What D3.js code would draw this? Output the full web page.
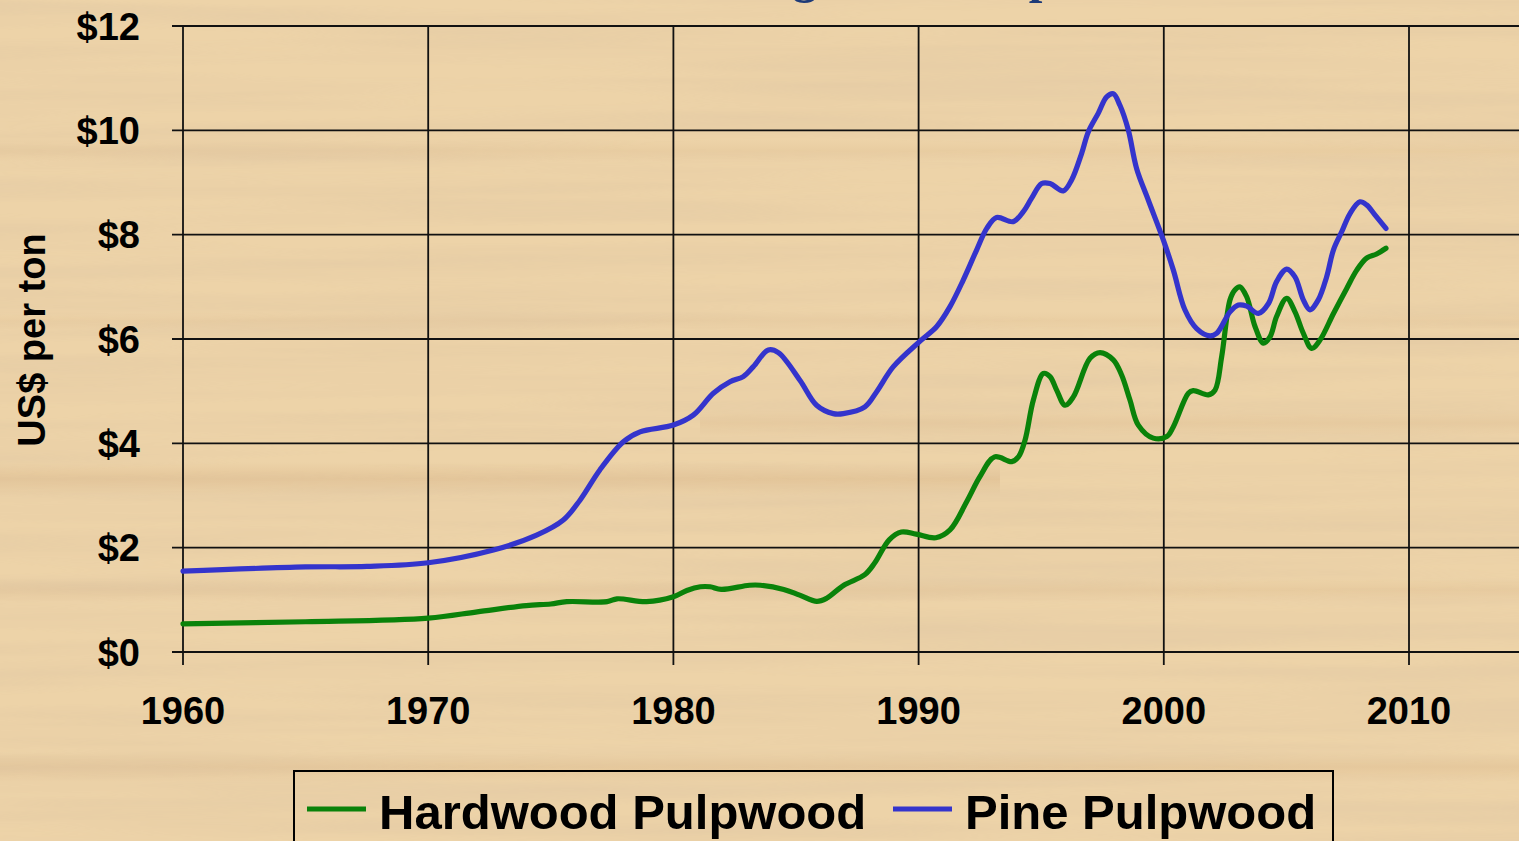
<!DOCTYPE html>
<html>
<head>
<meta charset="utf-8">
<script src="https://cdn.jsdelivr.net/npm/d3@7"></script>
<style>
  html, body { margin: 0; padding: 0; overflow: hidden; background: #ecd2a7; }
  svg { display: block; }
  text { font-family: "Liberation Sans", Arial, sans-serif; font-weight: bold; fill: #000; }
</style>
</head>
<body>
<div id="chart"></div>
<script>
// pulpwood stumpage prices, US$ per ton
const hardwood = [
  [1960, 0.54], [1965, 0.58], [1970, 0.65], [1972, 0.77], [1974, 0.89], [1975, 0.92],
  [1975.65, 0.965], [1977.3, 0.965], [1977.7, 1.02], [1978.9, 0.965], [1980, 1.06],
  [1980.55, 1.18], [1981.1, 1.25], [1981.5, 1.25], [1981.95, 1.2], [1983.1, 1.28],
  [1983.55, 1.28], [1984.5, 1.2], [1985.15, 1.09], [1985.85, 0.97], [1986.25, 1.03],
  [1986.95, 1.28], [1987.8, 1.48], [1988.2, 1.7], [1988.8, 2.15], [1989.3, 2.3],
  [1989.9, 2.26], [1990.7, 2.19], [1991.28, 2.34], [1991.96, 2.88], [1992.5, 3.36],
  [1993.1, 3.74], [1993.8, 3.65], [1994.07, 3.74], [1994.34, 4.06], [1994.68, 4.83],
  [1995.09, 5.34], [1995.36, 5.28], [1995.63, 5.02], [1995.97, 4.73], [1996.31, 4.89],
  [1996.99, 5.63], [1997.4, 5.74], [1997.94, 5.6], [1998.28, 5.31], [1998.62, 4.83],
  [1998.96, 4.35], [1999.57, 4.1], [2000.12, 4.13], [2000.39, 4.32], [2001.0, 4.96],
  [2001.2, 5.01], [2001.82, 4.93], [2002.09, 5.02], [2002.36, 5.66], [2002.7, 6.75],
  [2002.9, 6.94], [2003.1, 7.0], [2003.38, 6.81], [2003.72, 6.24], [2004.06, 5.92],
  [2004.33, 6.04], [2004.6, 6.43], [2005.01, 6.78], [2005.35, 6.52], [2005.69, 6.11],
  [2006.03, 5.82], [2006.37, 5.98], [2006.92, 6.49], [2007.46, 6.97], [2007.87, 7.32],
  [2008.27, 7.55], [2008.68, 7.63], [2009.06, 7.74]
];

const pine = [
  [1960, 1.55], [1965, 1.63], [1967.5, 1.64], [1970, 1.71], [1972.66, 1.955],
  [1974.42, 2.24], [1975.51, 2.53], [1976.19, 2.91], [1977.0, 3.49], [1977.96, 4.03],
  [1978.64, 4.22], [1980.0, 4.35], [1980.81, 4.54], [1981.63, 4.96], [1982.31, 5.18],
  [1982.85, 5.28], [1983.26, 5.47], [1983.87, 5.79], [1984.28, 5.74], [1985.16, 5.21],
  [1985.84, 4.73], [1986.52, 4.57], [1986.93, 4.57], [1987.81, 4.7], [1988.29, 4.99],
  [1988.97, 5.47], [1990.06, 5.96], [1990.74, 6.24], [1991.28, 6.62], [1991.82, 7.13],
  [1992.37, 7.71], [1992.78, 8.12], [1993.18, 8.33], [1993.86, 8.25], [1994.27, 8.44],
  [1994.61, 8.7], [1995.02, 8.98], [1995.36, 8.98], [1995.9, 8.84], [1996.24, 9.05],
  [1996.65, 9.56], [1996.92, 9.97], [1997.33, 10.33], [1997.67, 10.64], [1997.94, 10.7],
  [1998.21, 10.48], [1998.55, 10.01], [1998.89, 9.27], [1999.37, 8.66], [1999.98, 7.9],
  [2000.39, 7.32], [2000.86, 6.56], [2001.34, 6.2], [2001.88, 6.06], [2002.16, 6.11],
  [2002.7, 6.52], [2003.04, 6.65], [2003.38, 6.63], [2003.86, 6.49], [2004.27, 6.68],
  [2004.6, 7.1], [2005.01, 7.34], [2005.35, 7.19], [2005.69, 6.75], [2005.96, 6.56],
  [2006.3, 6.75], [2006.64, 7.19], [2006.92, 7.71], [2007.26, 8.06], [2007.6, 8.41],
  [2008.0, 8.63], [2008.27, 8.57], [2008.61, 8.38], [2009.06, 8.12]
];

const xTicks = [1960, 1970, 1980, 1990, 2000, 2010];
const yTicks = [0, 2, 4, 6, 8, 10, 12];
const seriesNames = ['Hardwood Pulpwood', 'Pine Pulpwood'];
const seriesColors = ['#0a820a', '#3434cc'];

var width = 1519, height = 841;

var svg = d3.select('#chart').append('svg')
    .attr('width', width)
    .attr('height', height);

var defs = svg.append('defs');

// wood grain: stretched noise so it reads as horizontal streaks
var grain = defs.append('filter').attr('id', 'grain')
    .attr('x', 0).attr('y', 0).attr('width', '100%').attr('height', '100%');
grain.append('feTurbulence')
    .attr('type', 'fractalNoise')
    .attr('baseFrequency', '0.0015 0.045')
    .attr('numOctaves', 3)
    .attr('seed', 7);
grain.append('feColorMatrix')
    .attr('type', 'matrix')
    .attr('values', '0 0 0 0 0.72  0 0 0 0 0.55  0 0 0 0 0.36  0 0 0 -1.6 1.05');

var band = defs.append('linearGradient').attr('id', 'band')
    .attr('x1', 0).attr('x2', 0).attr('y1', 0).attr('y2', 1);
band.append('stop').attr('offset', '0%').attr('stop-color', '#d6b285').attr('stop-opacity', 0);
band.append('stop').attr('offset', '50%').attr('stop-color', '#d6b285').attr('stop-opacity', 0.55);
band.append('stop').attr('offset', '100%').attr('stop-color', '#d6b285').attr('stop-opacity', 0);

svg.append('rect')
    .attr('width', width).attr('height', height)
    .attr('fill', '#edd3a8');

// a few darker streaks across the board
var streaks = [
  {x: 0, y: 140, w: 1519, h: 22, o: 0.35},
  {x: 0, y: 312, w: 1519, h: 18, o: 0.3},
  {x: 0, y: 462, w: 1000, h: 34, o: 0.75},
  {x: 700, y: 410, w: 819, h: 26, o: 0.45},
  {x: 0, y: 578, w: 1519, h: 24, o: 0.45},
  {x: 0, y: 752, w: 1519, h: 30, o: 0.6}
];
svg.selectAll('.streak')
  .data(streaks)
  .enter().append('rect')
    .attr('class', 'streak')
    .attr('x', d => d.x).attr('y', d => d.y)
    .attr('width', d => d.w).attr('height', d => d.h)
    .attr('fill', 'url(#band)')
    .attr('opacity', d => d.o);

svg.append('rect')
    .attr('width', width).attr('height', height)
    .attr('filter', 'url(#grain)')
    .attr('opacity', 0.5);

// title, mostly cut off above the top edge as in the slide
svg.append('text')
    .attr('x', 708)
    .attr('y', -7)
    .style('font-family', '"Liberation Serif", "Times New Roman", serif')
    .style('font-size', '49px')
    .style('fill', '#1d3a78')
    .text('Long-Term Pulpwood Prices');

var x = d3.scaleLinear().domain([1960, 2010]).range([183, 1409]);
var y = d3.scaleLinear().domain([0, 12]).range([652, 26]);

var grid = svg.append('g');

// horizontal grid lines run off the right edge
grid.selectAll('.hgrid')
  .data(yTicks)
  .enter().append('line')
    .attr('x1', x(1960) - 11)
    .attr('x2', width + 20)
    .attr('y1', d => y(d))
    .attr('y2', d => y(d))
    .attr('stroke', '#111')
    .attr('stroke-width', 1.8);

grid.selectAll('.vgrid')
  .data(xTicks)
  .enter().append('line')
    .attr('x1', d => x(d))
    .attr('x2', d => x(d))
    .attr('y1', y(12))
    .attr('y2', y(0) + 13)
    .attr('stroke', '#111')
    .attr('stroke-width', 1.8);

svg.selectAll('.ylab')
  .data(yTicks)
  .enter().append('text')
    .attr('x', 140)
    .attr('y', d => y(d) + 13.5)
    .attr('text-anchor', 'end')
    .style('font-size', '38px')
    .text(d => '$' + d);

svg.selectAll('.xlab')
  .data(xTicks)
  .enter().append('text')
    .attr('x', d => x(d))
    .attr('y', 724)
    .attr('text-anchor', 'middle')
    .style('font-size', '38px')
    .text(d => d);

svg.append('text')
    .attr('transform', 'translate(45,340) rotate(-90)')
    .attr('text-anchor', 'middle')
    .style('font-size', '38px')
    .text('US$ per ton');

var line = d3.line()
    .x(d => x(d[0]))
    .y(d => y(d[1]))
    .curve(d3.curveCatmullRom.alpha(0.5));

[hardwood, pine].forEach(function(data, i) {
  svg.append('path')
      .datum(data)
      .attr('d', line)
      .attr('fill', 'none')
      .attr('stroke', seriesColors[i])
      .attr('stroke-width', 5.2)
      .attr('stroke-linejoin', 'round')
      .attr('stroke-linecap', 'round');
});

// legend
var legend = svg.append('g');
legend.append('rect')
    .attr('x', 294).attr('y', 771)
    .attr('width', 1039).attr('height', 120)
    .attr('fill', 'none')
    .attr('stroke', '#000')
    .attr('stroke-width', 2);

var legendX = [307, 893];
seriesNames.forEach(function(name, i) {
  legend.append('line')
      .attr('x1', legendX[i]).attr('x2', legendX[i] + 59)
      .attr('y1', 809).attr('y2', 809)
      .attr('stroke', seriesColors[i])
      .attr('stroke-width', 5.2);
  legend.append('text')
      .attr('x', legendX[i] + 72)
      .attr('y', 829)
      .style('font-size', '49px')
      .text(name);
});
</script>
</body>
</html>
